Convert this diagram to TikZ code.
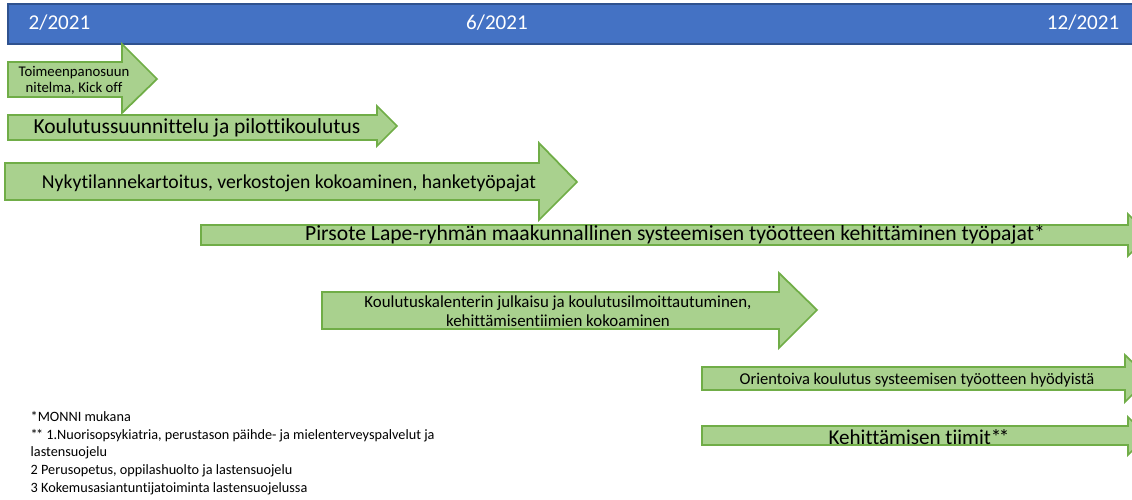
\documentclass[tikz,border=0pt]{standalone}
\usepackage{fontspec}
\setmainfont{Carlito}[Ligatures={NoCommon}]
\usetikzlibrary{calc}
\definecolor{barblue}{HTML}{4472C4}
\definecolor{baredge}{HTML}{2F528F}
\definecolor{phasefill}{HTML}{A9D18E}
\definecolor{phaseedge}{HTML}{70AD47}

\begin{document}
\begin{tikzpicture}[x=0.01cm, y=-0.01cm,
        phase/.style={fill=phasefill, draw=phaseedge, line width=0.5pt, line join=miter},
        datelabel/.style={text=white, inner sep=0pt, font=\fontsize{6}{7}\selectfont},
        phasetext/.style={inner sep=0pt, align=center}]
    \useasboundingbox (0, 0) rectangle (1132, 500);
    \clip (0, 0) rectangle (1132, 500);

    % time bar
    \draw [fill=barblue, draw=baredge, line width=0.5pt] (8, 4) rectangle (1140, 44);
    \node (feb) [datelabel, anchor=west] at (28, 23) {2/2021};
    \node (jun) [datelabel] at (497, 23) {6/2021};
    \node (dec) [datelabel, anchor=east] at (1120, 23) {12/2021};

    % phase arrows
    \draw [phase] (8, 62) -- (122, 62) -- (122, 44) -- (157, 79) -- (122, 113) -- (122, 97) -- (8, 97) -- cycle;
    \draw [phase] (8, 115) -- (377, 115) -- (377, 106) -- (397, 126) -- (377, 146) -- (377, 140) -- (8, 140) -- cycle;
    \draw [phase] (5, 163) -- (539, 163) -- (539, 143) -- (577, 182) -- (539, 220) -- (539, 200) -- (5, 200) -- cycle;
    \draw [phase] (201, 225) -- (1128, 225) -- (1128, 214) -- (1149, 235) -- (1128, 256) -- (1128, 245) -- (201, 245) -- cycle;
    \draw [phase] (322, 292) -- (779, 292) -- (779, 273) -- (817, 310) -- (779, 348) -- (779, 329) -- (322, 329) -- cycle;
    \draw [phase] (702, 367) -- (1125, 367) -- (1125, 355) -- (1149, 378) -- (1125, 402) -- (1125, 390) -- (702, 390) -- cycle;
    \draw [phase] (702, 426) -- (1128, 426) -- (1128, 417) -- (1147, 436) -- (1128, 455) -- (1128, 445) -- (702, 445) -- cycle;

    \node (kickoff) [phasetext, font=\fontsize{4.2}{4.6}\selectfont] at (74, 80) {Toimeenpanosuun\\nitelma, Kick off};
    \node (pilot) [phasetext, font=\fontsize{6.1}{7}\selectfont] at (197, 128) {Koulutussuunnittelu ja pilottikoulutus};
    \node (survey) [phasetext, font=\fontsize{5.6}{6.5}\selectfont] at (289, 183) {Nykytilannekartoitus, verkostojen kokoaminen, hanketyöpajat};
    \node (pirsote) [phasetext, font=\fontsize{6.15}{7}\selectfont] at (675, 235) {Pirsote Lape-ryhmän maakunnallinen systeemisen työotteen kehittäminen työpajat*};
    \node (calendar) [phasetext, font=\fontsize{4.8}{5.4}\selectfont] at (558, 311) {Koulutuskalenterin julkaisu ja koulutusilmoittautuminen,\\kehittämisentiimien kokoaminen};
    \node (orient) [phasetext, font=\fontsize{4.7}{5.4}\selectfont] at (917, 380) {Orientoiva koulutus systeemisen työotteen hyödyistä};
    \node (teams) [phasetext, font=\fontsize{6}{7}\selectfont] at (919, 437) {Kehittämisen tiimit*\kern-0.12em*};

    % footnotes
    \node (notes) [inner sep=0pt, anchor=north west, align=left, font=\fontsize{4.05}{5}\selectfont] at (30, 411) {*MONNI mukana\\*\kern-0.12em* 1.Nuorisopsykiatria, perustason päihde- ja mielenterveyspalvelut ja\\lastensuojelu\\2 Perusopetus, oppilashuolto ja lastensuojelu\\3 Kokemusasiantuntijatoiminta lastensuojelussa};
\end{tikzpicture}
\end{document}
